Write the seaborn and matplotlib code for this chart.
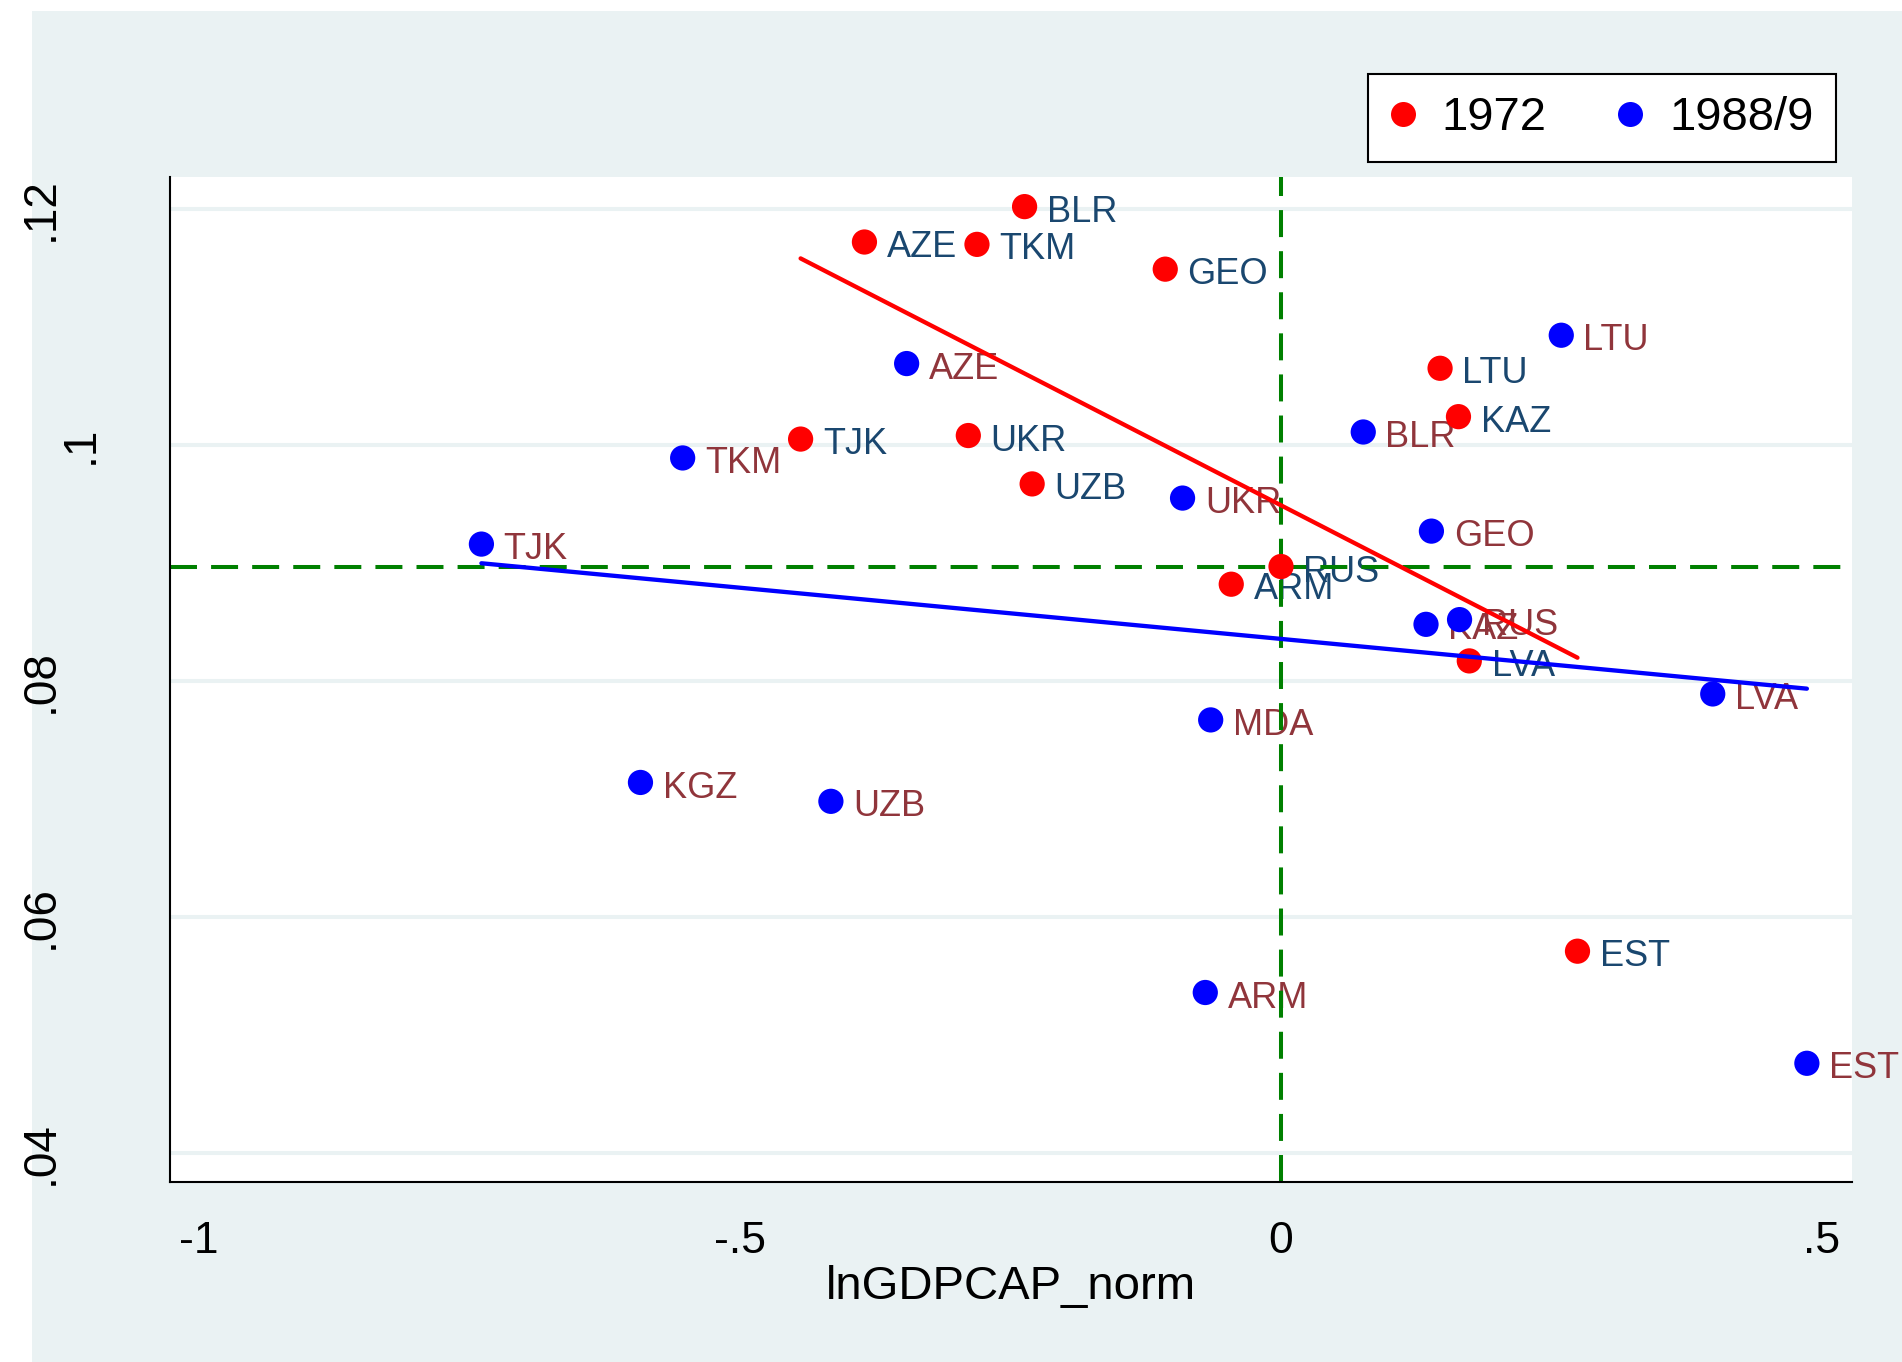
import pandas as pd
import matplotlib.pyplot as plt
import matplotlib.transforms as mtransforms
from matplotlib.patches import Rectangle
from matplotlib.lines import Line2D
import seaborn as sns

sns.set_style("white")
plt.rcParams['font.family'] = ['Liberation Sans', 'DejaVu Sans']
plt.rcParams['text.color'] = 'black'
plt.rcParams['axes.labelcolor'] = 'black'
plt.rcParams['xtick.color'] = 'black'
plt.rcParams['ytick.color'] = 'black'

# --- data ---
countries_72 = ['BLR', 'AZE', 'TKM', 'GEO', 'TJK', 'UKR', 'UZB', 'LTU', 'KAZ', 'RUS', 'ARM', 'LVA', 'EST']
gdp_72 = [-0.237, -0.385, -0.281, -0.107, -0.444, -0.289, -0.230, 0.147, 0.164, 0.000, -0.046, 0.174, 0.274]
share_72 = [0.1202, 0.1172, 0.1170, 0.1149, 0.1005, 0.1008, 0.0967, 0.1065, 0.1024, 0.0897, 0.0882, 0.0817, 0.0571]

countries_88 = ['AZE', 'TKM', 'TJK', 'UKR', 'BLR', 'LTU', 'GEO', 'KAZ', 'RUS', 'LVA', 'MDA', 'KGZ', 'UZB', 'ARM', 'EST']
gdp_88 = [-0.346, -0.553, -0.739, -0.091, 0.076, 0.259, 0.139, 0.134, 0.165, 0.399, -0.065, -0.592, -0.416, -0.070, 0.486]
share_88 = [0.1069, 0.0989, 0.0916, 0.0955, 0.1011, 0.1093, 0.0927, 0.0848, 0.0852, 0.0789, 0.0767, 0.0714, 0.0698, 0.0536, 0.0476]

hline_y = 0.0897
vline_x = 0.0

xticks = [-1, -0.5, 0, 0.5]
xtick_labels = ['-1', '-.5', '0', '.5']
yticks = [0.04, 0.06, 0.08, 0.10, 0.12]
ytick_labels = ['.04', '.06', '.08', '.1', '.12']

series = ['1972', '1988/9']
point_colors = {'1972': '#ff0000', '1988/9': '#0000ff'}
label_colors = {'1972': '#1a476f', '1988/9': '#90353b'}

df = pd.concat([
    pd.DataFrame({'country': countries_72, 'x': gdp_72, 'y': share_72, 'year': '1972'}),
    pd.DataFrame({'country': countries_88, 'x': gdp_88, 'y': share_88, 'year': '1988/9'}),
], ignore_index=True)

bg = '#eaf2f3'
fig = plt.figure(figsize=(19.02, 13.62), dpi=100, facecolor='white')
fig.patches.append(Rectangle((32 / 1902, 0), 1 - 32 / 1902, 1 - 11 / 1362,
                             transform=fig.transFigure, facecolor=bg, edgecolor='none', zorder=-10))
ax = fig.add_axes([170 / 1902, 1 - 1182 / 1362, (1852 - 170) / 1902, (1182 - 177) / 1362])
ax.set_facecolor('white')

# points
sns.scatterplot(data=df, x='x', y='y', hue='year', palette=point_colors, s=330,
                linewidth=0, legend=False, ax=ax, zorder=3)

# marker labels
for _, r in df.iterrows():
    ax.annotate(r['country'], (r['x'], r['y']), xytext=(16, -4), textcoords='offset points',
                fontsize=26, color=label_colors[r['year']], va='center', ha='left', zorder=2)

# reference lines
ax.axhline(hline_y, color='#008000', lw=2.9, ls=(0, (6.7, 3.5)), zorder=2.5)
ax.axvline(vline_x, color='#008000', lw=2.9, ls=(0, (6.7, 3.5)), zorder=2.5)

# linear fits
for yr in series:
    sub = df[df['year'] == yr]
    sns.regplot(data=sub, x='x', y='y', scatter=False, ci=None, ax=ax,
                line_kws=dict(color=point_colors[yr], lw=3.1, zorder=4))

ax.set_xlim(-1.0268, 0.5277)
ax.set_ylim(0.03754, 0.12271)

# grid and axes
ax.set_yticks(yticks)
ax.set_yticklabels([])
ax.set_xticks(xticks)
ax.set_xticklabels(xtick_labels, fontsize=32)
for yv in yticks:
    ax.axhline(yv, color=bg, lw=2.9, zorder=0.5)
ax.tick_params(axis='both', direction='out', length=14.4, width=1.5, color='black')
ax.tick_params(axis='x', pad=14)
for s in ['top', 'right']:
    ax.spines[s].set_visible(False)
for s in ['left', 'bottom']:
    ax.spines[s].set_color('black')
    ax.spines[s].set_linewidth(1.5)

# rotated y tick labels (Stata style; ".1" sits closer to the axis)
for yv, lbl in zip(yticks, ytick_labels):
    dx = -67 if lbl == '.1' else -107
    tr = mtransforms.offset_copy(ax.get_yaxis_transform(), fig=fig, x=dx, y=0, units='dots')
    ax.text(0, yv, lbl, transform=tr, rotation=90, ha='right', va='center', fontsize=33)

ax.set_xlabel('lnGDPCAP_norm', fontsize=34, labelpad=2)
ax.set_ylabel('')

# legend
handles = [Line2D([], [], ls='none', marker='o', markersize=18, markeredgewidth=0,
                  color=point_colors[yr], label=yr) for yr in series]
leg = fig.legend(handles=handles, loc='upper right', bbox_to_anchor=(1836 / 1902, 1 - 74 / 1362),
                 ncol=2, fontsize=34, frameon=True, fancybox=False, edgecolor='black',
                 framealpha=1, borderpad=0.47, handlelength=0.55, handletextpad=0.55,
                 columnspacing=1.5, borderaxespad=0)
leg.get_frame().set_linewidth(1.5)

plt.savefig('out.png', dpi=100, facecolor=fig.get_facecolor())
